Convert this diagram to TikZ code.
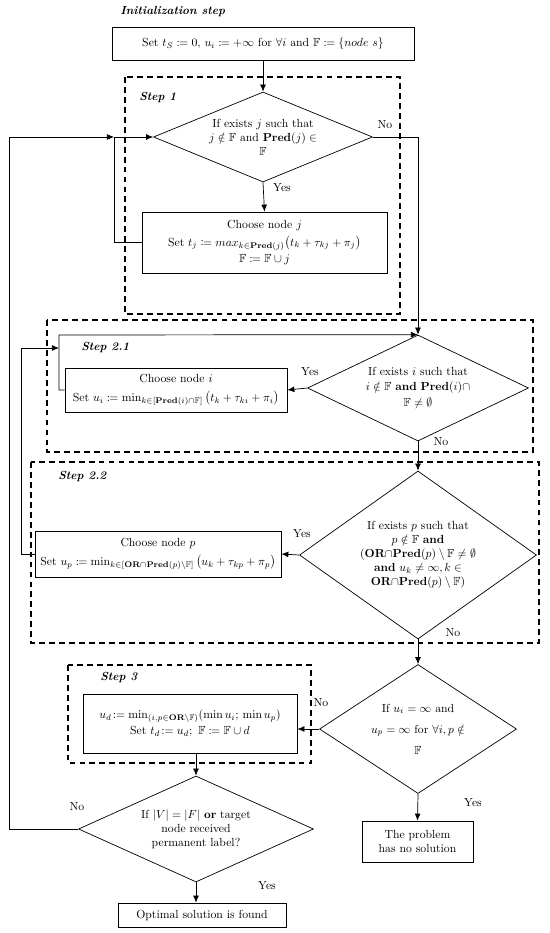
\documentclass[tikz,border=0pt]{standalone}
\usepackage{amsmath,amssymb,mathtools}
\usetikzlibrary{shapes.geometric,arrows.meta,calc}

\tikzset{
  box/.style={draw, rectangle, align=center, inner sep=1pt},
  decision/.style={draw, diamond, align=center, inner sep=0pt},
  stepframe/.style={line width=1.3pt, dash pattern=on 5pt off 3.5pt},
  flow/.style={-{Latex[length=6pt,width=5pt]}},
  steplabel/.style={anchor=west, font=\bfseries\itshape},
  tag/.style={inner sep=1pt}
}

\begin{document}
\begin{tikzpicture}[x=0.3mm, y=-0.3mm, line width=0.6pt]
      \useasboundingbox (0,0) rectangle (550,933);
      % frames of the steps
      \draw[stepframe] (125,77) rectangle (400,314);
      \draw[stepframe] (47,320) rectangle (533,452);
      \draw[stepframe] (31,462) rectangle (539,643);
      \draw[stepframe] (68,665) rectangle (311,763);
      \node[steplabel] (lbinit) at (116,12) {Initialization step};
      \node[steplabel] (lbstep1) at (135,98) {Step 1};
      \node[steplabel] (lbstep21) at (77,348) {Step 2.1};
      \node[steplabel] (lbstep22) at (54,477) {Step 2.2};
      \node[steplabel] (lbstep3) at (96,678) {Step 3};

      % boxes and decisions
      \node[box, minimum width=90.6mm, minimum height=9.9mm] (init) at (263,43.5)
        {Set $t_S \coloneqq 0$, $u_i \coloneqq +\infty$ for $\forall i$ and $\mathbb{F} \coloneqq \{node\ s\}$};
      \node[decision, aspect=2.43, minimum width=65.7mm, minimum height=27mm] (d1) at (263,137)
        {If exists $j$ such that\\ $j \notin \mathbb{F}$ and $\mathbf{Pred}(j) \in$\\ $\mathbb{F}$};
      \node[box, minimum width=73.5mm, minimum height=18.3mm] (boxj) at (264.5,242.5)
        {Choose node $j$\\[3pt] Set $t_j \coloneqq max_{k\in\mathbf{Pred}(j)}\big(t_k + \tau_{kj} + \pi_j\big)$\\[2pt] $\mathbb{F} \coloneqq \mathbb{F} \cup j$};
      \node[decision, aspect=2.08, minimum width=66.3mm, minimum height=31.8mm] (d21) at (418,388)
        {If exists $i$ such that\\[1.5pt] $i \notin \mathbb{F}$ \textbf{and} $\mathbf{Pred}(i) \cap$\\[1.5pt] $\mathbb{F} \neq \emptyset$};
      \node[box, minimum width=66.6mm, minimum height=13.2mm] (boxi) at (176,390)
        {Choose node $i$\\[4pt] Set $u_i \coloneqq \min_{k\in[\mathbf{Pred}(i)\cap\mathbb{F}]}\big(t_k + \tau_{ki} + \pi_i\big)$};
      \node[decision, aspect=1.41, minimum width=71.1mm, minimum height=50.4mm] (d22) at (418,555)
        {If exists $p$ such that\\ $p \notin \mathbb{F}$ \textbf{and}\\ $(\mathbf{OR}{\cap}\mathbf{Pred}(p)\setminus\mathbb{F} \neq \emptyset$\\ \textbf{and} $u_k \neq \infty, k \in$\\ $\mathbf{OR}{\cap}\mathbf{Pred}(p)\setminus\mathbb{F})$};
      \node[box, minimum width=73.8mm, minimum height=13.8mm] (boxp) at (158,554)
        {Choose node $p$\\[4pt] Set $u_p \coloneqq \min_{k\in[\mathbf{OR}\cap\mathbf{Pred}(p)\setminus\mathbb{F}]}\big(u_k + \tau_{kp} + \pi_p\big)$};
      \node[decision, aspect=1.53, minimum width=59.1mm, minimum height=38.7mm] (d3) at (418,729)
        {If $u_i = \infty$ and\\[6pt] $u_p = \infty$ for $\forall i, p \notin$\\[6pt] $\mathbb{F}$};
      \node[box, minimum width=64.2mm, minimum height=17.7mm] (boxd) at (190,723.5)
        {$u_d\!:=\min_{(i,p\in\mathbf{OR}\setminus\mathbb{F})}(\min u_i;\, \min u_p)$\\[2pt] Set $t_d\!:= u_d;\ \mathbb{F} \coloneqq \mathbb{F} \cup d$};
      \node[decision, aspect=2.22, minimum width=70.5mm, minimum height=31.8mm] (d4) at (196,829)
        {If $|V| = |F|$ \textbf{or} target\\ node received\\ permanent label?};
      \node[box, minimum width=50.4mm, minimum height=7.2mm] (found) at (202,915)
        {Optimal solution is found};
      \node[box, minimum width=33.3mm, minimum height=12.3mm] (nosol) at (417.5,841.5)
        {The problem\\ has no solution};

      % turning points of the loops
      \coordinate (rail0) at (9,137);
      \coordinate (rail1) at (114,137);
      \coordinate (rail2) at (418,137);
      \coordinate (rail3) at (59,335);
      \coordinate (rail4) at (21,348);

      % connectors
      \draw[flow] (init.south) -- (d1.north);
      \draw[flow] (d1.south) -- (boxj.north);
      \draw[flow] (boxj.west) -| (rail1) -- (d1.west);
      \draw[flow] (d1.east) -- (rail2) -- (d21.north);
      \draw[flow] (d21.west) -- (boxi.east);
      \draw[flow] (boxi.west) -| (rail3) -- (d21.north);
      \draw[flow] (d21.south) -- (d22.north);
      \draw[flow] (d22.west) -- (boxp.east);
      \draw[flow] (boxp.west) -| (rail4) -- (rail4 -| rail3);
      \draw[flow] (d22.south) -- (d3.north);
      \draw[flow] (d3.west) -- (d3.west -| boxd.east);
      \draw[flow] (d3.south) -- (nosol.north);
      \draw[flow] (boxd.south -| d4.north) -- (d4.north);
      \draw[flow] (d4.south) -- (d4.south |- found.north);
      \draw[flow] (d4.west) -| (rail0) -- (rail1);

      % answers
      \node[tag] (yes1) at (282,188) {Yes};
      \node[tag] (no1) at (385,125) {No};
      \node[tag] (yes21) at (310,372) {Yes};
      \node[tag] (no21) at (441,442) {No};
      \node[tag] (yes22) at (302,534) {Yes};
      \node[tag] (no22) at (453,633) {No};
      \node[tag] (no3) at (321,703) {No};
      \node[tag] (yes3) at (473,803) {Yes};
      \node[tag] (no4) at (77,807) {No};
      \node[tag] (yes4) at (267,886) {Yes};
\end{tikzpicture}
\end{document}
